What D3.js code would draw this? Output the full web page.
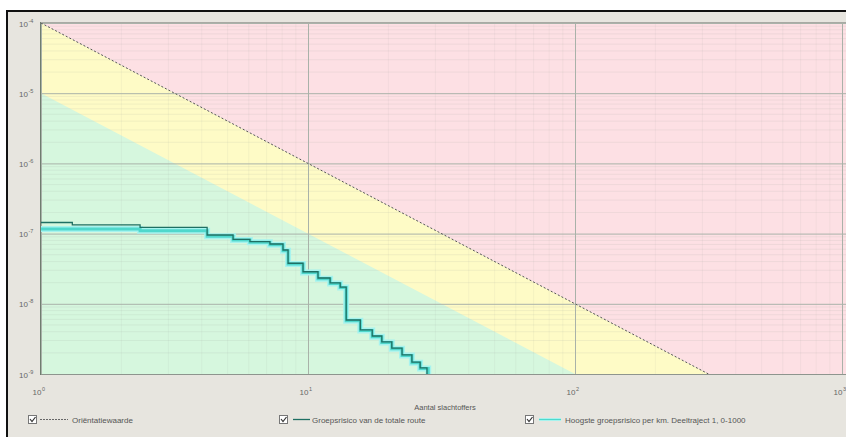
<!DOCTYPE html>
<html>
<head>
<meta charset="utf-8">
<script src="https://cdn.jsdelivr.net/npm/d3@7"></script>
<style>
  html, body { margin: 0; padding: 0; background: #fff; }
  svg { display: block; font-family: "Liberation Sans", Arial, sans-serif; }
</style>
</head>
<body>
<div id="chart"></div>
<script>
// orientation value (Oriëntatiewaarde) and the lower band edge, [N, F]
const orientLine = [[1, 1e-4], [1000, 1e-10], [10000, 1e-12]];
const bandLine = [[1, 1e-5], [1000, 1e-11], [10000, 1e-13]];

// Groepsrisico van de totale route (step after)
const totalN = [1, 1.31, 2.35, 4.19, 5.24, 6.06, 7.2, 8.06, 8.42, 9.58, 10.9, 12.1, 13.2, 13.9, 15.7, 17.4, 18.9, 20.6, 22.5, 24.5, 26.3, 27.9];
const totalF = [1.44e-7, 1.33e-7, 1.23e-7, 9.55e-8, 8.3e-8, 7.67e-8, 7.11e-8, 5.84e-8, 3.78e-8, 2.86e-8, 2.33e-8, 1.98e-8, 1.73e-8, 5.88e-9, 4.24e-9, 3.48e-9, 2.86e-9, 2.34e-9, 1.87e-9, 1.48e-9, 1.22e-9, 1e-9];

// Hoogste groepsrisico per km
const kmN = [1, 2.35, 4.19, 5.24, 6.06, 7.2, 8.06, 8.42, 9.58, 10.9, 12.1, 13.2, 13.9, 15.7, 17.4, 18.9, 20.6, 22.5, 24.5, 26.3, 28.2];
const kmF = [1.16e-7, 1.1e-7, 9.2e-8, 8.1e-8, 7.5e-8, 6.95e-8, 5.7e-8, 3.7e-8, 2.8e-8, 2.28e-8, 1.94e-8, 1.7e-8, 5.75e-9, 4.15e-9, 3.4e-9, 2.8e-9, 2.29e-9, 1.83e-9, 1.45e-9, 1.2e-9, 1e-9];

const xTicks = [1, 10, 100, 1000];
const xTickExp = ["0", "1", "2", "3"];
const yTicks = [1e-4, 1e-5, 1e-6, 1e-7, 1e-8, 1e-9];
const yTickExp = ["-4", "-5", "-6", "-7", "-8", "-9"];

const legendLabels = ["Oriëntatiewaarde", "Groepsrisico van de totale route", "Hoogste groepsrisico per km. Deeltraject 1, 0-1000"];

const width = 846, height = 437;
const plot = { left: 41, top: 23, right: 846, bottom: 374 };

const svg = d3.select("#chart").append("svg")
  .attr("width", width)
  .attr("height", height);

// panel background + black frame
svg.append("rect").attr("x", 0).attr("y", 0).attr("width", width).attr("height", height).attr("fill", "#fff");
svg.append("rect").attr("x", 8).attr("y", 12).attr("width", width).attr("height", height)
  .attr("fill", "#e7e5df");
svg.append("path").attr("d", `M7,${height}V11H${width}`)
  .attr("fill", "none").attr("stroke", "#111").attr("stroke-width", 2);

const x = d3.scaleLog().domain([1, 1000]).range([41, 842]);
const y = d3.scaleLog().domain([1e-4, 1e-9]).range([plot.top, plot.bottom]);

svg.append("clipPath").attr("id", "plotclip")
  .append("rect")
  .attr("x", plot.left).attr("y", plot.top)
  .attr("width", plot.right - plot.left).attr("height", plot.bottom - plot.top);

const g = svg.append("g").attr("clip-path", "url(#plotclip)");

// green base
g.append("rect")
  .attr("x", plot.left).attr("y", plot.top)
  .attr("width", plot.right - plot.left).attr("height", plot.bottom - plot.top)
  .attr("fill", "#d6f7de");

const poly = d3.line().x(d => x(d[0])).y(d => y(d[1]));

// yellow band: below orientation line, above band line
const bandPoly = orientLine.concat(bandLine.slice().reverse());
g.append("path").attr("d", poly(bandPoly) + "Z").attr("fill", "#fefbc6");

// pink: above orientation line
const pinkPoly = orientLine.concat([[10000, 1], [1, 1]]);
g.append("path").attr("d", poly(pinkPoly) + "Z").attr("fill", "#fde0e4");

// minor grid
const minorX = [];
const minorY = [];
for (let e = 0; e < 3; e++) for (let k = 2; k <= 9; k++) minorX.push(k * Math.pow(10, e));
for (let e = -9; e < -4; e++) for (let k = 2; k <= 9; k++) minorY.push(k * Math.pow(10, e));

g.append("g").selectAll("line").data(minorX).join("line")
  .attr("x1", d => x(d)).attr("x2", d => x(d))
  .attr("y1", plot.top).attr("y2", plot.bottom)
  .attr("stroke", "#9aa59a").attr("stroke-opacity", 0.1);
g.append("g").selectAll("line").data(minorY).join("line")
  .attr("y1", d => y(d)).attr("y2", d => y(d))
  .attr("x1", plot.left).attr("x2", plot.right)
  .attr("stroke", "#9aa59a").attr("stroke-opacity", 0.14);

// major grid
g.append("g")
  .attr("transform", `translate(0,${plot.top})`)
  .call(d3.axisBottom(x).tickValues(xTicks).tickSize(plot.bottom - plot.top).tickFormat(""))
  .call(a => a.select(".domain").remove())
  .call(a => a.selectAll("line").attr("stroke", "#a9b2a9"));
g.append("g")
  .attr("transform", `translate(${plot.left},0)`)
  .call(d3.axisRight(y).tickValues(yTicks).tickSize(plot.right - plot.left).tickFormat(""))
  .call(a => a.select(".domain").remove())
  .call(a => a.selectAll("line").attr("stroke", "#a9b2a9"));

// orientation line
g.append("path")
  .attr("d", poly(orientLine))
  .attr("fill", "none").attr("stroke", "#555").attr("stroke-width", 1)
  .attr("stroke-dasharray", "2,2");

// step curves
const step = d3.line().curve(d3.curveStepAfter).x(d => x(d[0])).y(d => y(d[1]));
const kmData = kmN.map((n, i) => [n, kmF[i]]);
const totalData = totalN.map((n, i) => [n, totalF[i]]);

g.append("path").attr("d", step(kmData))
  .attr("fill", "none").attr("stroke", "#a6f3ee").attr("stroke-width", 6);
g.append("path").attr("d", step(kmData))
  .attr("fill", "none").attr("stroke", "#4fd8cc").attr("stroke-width", 3);
g.append("path").attr("d", step(totalData))
  .attr("fill", "none").attr("stroke", "#1f6f63").attr("stroke-width", 1.3);

// plot frame
svg.append("line").attr("x1", plot.left).attr("x2", plot.right).attr("y1", plot.top - 0.5).attr("y2", plot.top - 0.5)
  .attr("stroke", "#a9aaa4");
svg.append("line").attr("x1", plot.left).attr("x2", plot.right).attr("y1", plot.bottom + 0.5).attr("y2", plot.bottom + 0.5)
  .attr("stroke", "#8e958e");
svg.append("line").attr("x1", plot.left - 0.5).attr("x2", plot.left - 0.5).attr("y1", plot.top - 1).attr("y2", plot.bottom + 1)
  .attr("stroke", "#6f7d6f");

// y tick labels
const yAxis = svg.append("g")
  .attr("transform", `translate(${plot.left - 4},0)`)
  .call(d3.axisLeft(y).tickValues(yTicks).tickSize(0).tickFormat(""));
yAxis.select(".domain").remove();
yAxis.selectAll(".tick").each(function(d, i) {
  d3.select(this).append("text")
    .attr("x", -9).attr("y", 3)
    .attr("text-anchor", "end")
    .attr("fill", "#666").attr("font-size", 8)
    .text("10");
  d3.select(this).append("text")
    .attr("x", -8.5).attr("y", -1)
    .attr("text-anchor", "start")
    .attr("fill", "#666").attr("font-size", 5.5)
    .text(yTickExp[i]);
});

// x tick labels
const xAxis = svg.append("g")
  .attr("transform", `translate(0,${plot.bottom})`)
  .call(d3.axisBottom(x).tickValues(xTicks).tickSize(0).tickFormat(""));
xAxis.select(".domain").remove();
xAxis.selectAll(".tick").each(function(d, i) {
  d3.select(this).append("text")
    .attr("x", 0).attr("y", 21)
    .attr("text-anchor", "end")
    .attr("fill", "#666").attr("font-size", 8)
    .text("10");
  d3.select(this).append("text")
    .attr("x", 0.5).attr("y", 17)
    .attr("text-anchor", "start")
    .attr("fill", "#666").attr("font-size", 5.5)
    .text(xTickExp[i]);
});

// axis title
svg.append("text")
  .attr("x", 445).attr("y", 410)
  .attr("text-anchor", "middle")
  .attr("fill", "#555").attr("font-size", 7.5)
  .text("Aantal slachtoffers");

// legend
const legendX = [28, 279, 525];
const lg = svg.append("g").selectAll("g").data(legendLabels).join("g")
  .attr("transform", (d, i) => `translate(${legendX[i]},423)`);

lg.append("rect")
  .attr("x", 0.5).attr("y", -7.5).attr("width", 8).attr("height", 8)
  .attr("fill", "#fff").attr("stroke", "#777");
lg.append("path")
  .attr("d", "M2,-4L4,-1.5L7.5,-6")
  .attr("fill", "none").attr("stroke", "#333").attr("stroke-width", 1.2);

lg.each(function(d, i) {
  const el = d3.select(this);
  if (i === 0) {
    el.append("line").attr("x1", 12).attr("x2", 40).attr("y1", -3.5).attr("y2", -3.5)
      .attr("stroke", "#666").attr("stroke-dasharray", "2,1");
  } else if (i === 1) {
    el.append("line").attr("x1", 14).attr("x2", 31).attr("y1", -3.5).attr("y2", -3.5)
      .attr("stroke", "#1f6f63").attr("stroke-width", 1.3);
  } else {
    el.append("line").attr("x1", 14).attr("x2", 36).attr("y1", -3.5).attr("y2", -3.5)
      .attr("stroke", "#a6f3ee").attr("stroke-width", 3);
    el.append("line").attr("x1", 14).attr("x2", 36).attr("y1", -3.5).attr("y2", -3.5)
      .attr("stroke", "#4fd8cc").attr("stroke-width", 1);
  }
});

lg.append("text")
  .attr("x", (d, i) => [44, 33, 40][i]).attr("y", 0)
  .attr("fill", "#555").attr("font-size", 8)
  .text(d => d);
</script>
</body>
</html>
